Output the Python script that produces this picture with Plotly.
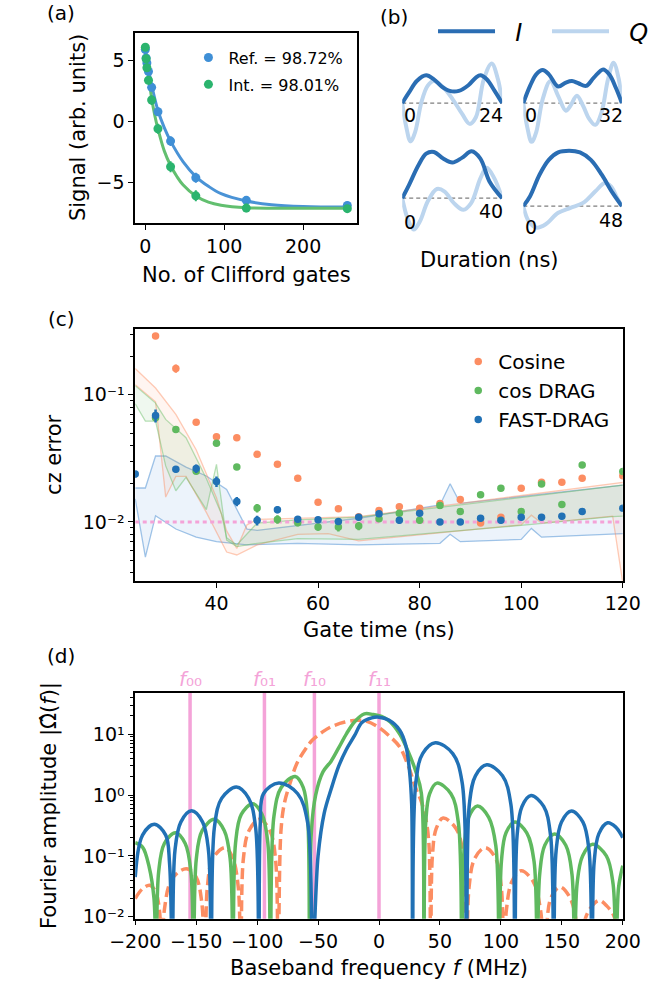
import plotly.graph_objects as go

W, H = 662, 1002

# ---------------- (a) randomized benchmarking ----------------
clifford_m = [0, 1, 2, 4, 8, 16, 32, 64, 128, 256]
ref_signal = [5.9, 5.2, 4.8, 4.1, 2.8, 0.8, -1.6, -4.6, -6.45, -6.86]
ref_err = [0.35, 0.35, 0.35, 0.3, 0.35, 0.35, 0.4, 0.4, 0.35, 0.3]
int_signal = [6.08, 5.14, 4.4, 3.38, 1.76, -0.59, -3.7, -6.08, -7.08, -7.13]
int_err = [0.3, 0.35, 0.35, 0.35, 0.4, 0.4, 0.45, 0.45, 0.35, 0.3]

fit_m_ref = [0, 4, 8, 16, 24, 32, 48, 64, 80, 96, 128, 160, 200, 256]
fit_ref = [5.8, 4.3, 3.0, 0.9, -0.5, -1.6, -3.3, -4.5, -5.3, -5.9, -6.5, -6.8, -6.95, -7.0]
fit_m_int = [0, 4, 8, 12, 16, 24, 32, 40, 48, 64, 80, 96, 128, 192, 256]
fit_int = [6.0, 3.8, 1.9, 0.5, -0.6, -2.4, -3.6, -4.5, -5.2, -6.1, -6.6, -6.85, -7.05, -7.1, -7.1]

ref_label = "Ref. = 98.72%"
int_label = "Int. = 98.01%"

# ---------------- (b) pulse shapes (I / Q) ----------------
pulse_durations = [24, 32, 40, 48]

i_t24 = [0, 1.64, 3.5, 5.76, 7.6, 9.5, 11.4, 13.6, 15.9, 17.7, 18.8, 20.3, 22.2, 24]
i_a24 = [0, 10.7, 22.3, 28, 24, 16.7, 12.3, 12.3, 18, 25.7, 28, 24, 12.3, 0]
q_t24 = [0, 0.9, 2.0, 3.1, 4.6, 6.1, 7.6, 9.9, 12.1, 14.4, 16.2, 17.7, 19.6, 21.5, 23.0, 24]
q_a24 = [0, -22.7, -38.7, -29.3, 0.7, 17.3, 22.3, 15.7, 4, -11, -21, -14.3, 24, 40, 24, 0]

i_t32 = [0, 2.2, 4.2, 6.3, 8.3, 11.3, 13.8, 15.8, 17.9, 20.4, 22.9, 25.9, 27.9, 30, 32]
i_a32 = [0, 17.3, 29, 33.3, 29, 16.7, 20.7, 22.3, 20, 17.3, 25.7, 34, 29, 15.7, 0]
q_t32 = [0, 1.2, 2.7, 4.2, 6.3, 8.8, 11.3, 13.8, 15.3, 17.4, 19.4, 21.4, 23.4, 25.4, 27.5, 29.3, 31, 32]
q_a32 = [0, -23, -39.3, -29.3, 4, 22.3, 7.3, -7.7, -2.7, 7.3, -2.7, -16, -22, -9.3, 24, 40.7, 24, 0]

i_t40 = [0, 2.7, 6.5, 9.6, 12.7, 16.4, 20.1, 23.9, 27.8, 31.3, 35, 40]
i_a40 = [0, 13.3, 33.3, 45, 46.7, 40, 36, 40.7, 47.3, 40, 16.7, 0]
q_t40 = [0, 2.1, 4.6, 7.1, 10.2, 13.9, 17, 20.7, 24.5, 27.6, 31.3, 33.8, 36.9, 40]
q_a40 = [0, -20, -31.7, -23.3, -3.3, 9.3, 6.7, -5, -11.7, -5, 20, 30.7, 20, 0]

i_t48 = [0, 3.3, 7.9, 12.4, 17, 22.3, 27.6, 32.9, 38.2, 43.5, 48]
i_a48 = [0, 10, 31.7, 46.7, 54.3, 56, 54.3, 46.7, 31.7, 13.3, 0]
q_t48 = [0, 2.6, 6.4, 10.9, 17, 23, 29.1, 35.1, 39.7, 42.7, 45.7, 48]
q_a48 = [0, -15, -21.7, -18.3, -6.7, -1.7, 3.3, 15, 23.3, 20, 8.3, 0]

# ---------------- (c) CZ error vs gate time ----------------
gate_times = [24, 28, 32, 36, 40, 44, 48, 52, 56, 60, 64, 68, 72, 76, 80, 84,
              88, 92, 96, 100, 104, 108, 112, 120]
cosine_t = gate_times[1:]
cosine_err = [0.29, 0.161, 0.0608, 0.0468, 0.0459, 0.034, 0.0284, 0.0221, 0.0143,
              0.0127, 0.0110, 0.0123, 0.0132, 0.0128, 0.0140, 0.0150, 0.0098,
              0.0109, 0.0184, 0.0205, 0.0205, 0.0221, 0.0231]
cosine_unc = [0.006, 0.012, 0.002, 0.0015, 0.0012, 0.001, 0.0008, 0.0006, 0.0005,
              0.0006, 0.0004, 0.0006, 0.0007, 0.0006, 0.0005, 0.0005, 0.0005,
              0.0005, 0.0004, 0.0005, 0.0005, 0.0005, 0.0005]
drag_t = gate_times[1:]
drag_err = [0.066, 0.0534, 0.025, 0.0415, 0.0271, 0.01285, 0.01048, 0.00986, 0.00912,
            0.00912, 0.0093, 0.0106, 0.0117, 0.0103, 0.0135, 0.0121, 0.0164, 0.0184,
            0.0121, 0.0199, 0.0137, 0.028, 0.0249]
drag_unc = [0.002, 0.0015, 0.001, 0.001, 0.0008, 0.001, 0.0008, 0.0006, 0.0006,
            0.0007, 0.0007, 0.0005, 0.0005, 0.0006, 0.0005, 0.0005, 0.0005, 0.0005,
            0.0005, 0.0005, 0.0006, 0.0005, 0.0005]
fast_t = gate_times
fast_err = [0.0238, 0.0686, 0.026, 0.0263, 0.0208, 0.0145, 0.0103, 0.0125, 0.0105,
            0.0104, 0.0101, 0.0109, 0.0116, 0.0103, 0.0117, 0.0100, 0.0100, 0.0107,
            0.0103, 0.0109, 0.0109, 0.0111, 0.0121, 0.0128]
fast_unc = [0.0015, 0.008, 0.0015, 0.002, 0.002, 0.0012, 0.0009, 0.0008, 0.0006,
            0.0006, 0.0006, 0.0006, 0.0006, 0.0006, 0.0006, 0.0005, 0.0005, 0.0006,
            0.0006, 0.0006, 0.0006, 0.0006, 0.0006, 0.0006]

# simulated error ranges (lower / upper envelopes)
fast_band_t_up = [24, 26, 28, 30, 34, 38, 42, 46, 48, 68, 84, 86, 88, 120]
fast_band_up = [0.0185, 0.0185, 0.033, 0.033, 0.027, 0.023, 0.018, 0.0088, 0.0086,
                0.0107, 0.0136, 0.0200, 0.0140, 0.0195]
fast_band_t_lo = [24, 26, 28, 30, 32, 36, 40, 46, 56, 68, 84, 86, 88, 100, 102, 104, 120]
fast_band_lo = [0.0152, 0.0053, 0.0112, 0.0100, 0.0088, 0.0076, 0.0070, 0.0066, 0.0068,
                0.0066, 0.0068, 0.0080, 0.0070, 0.0073, 0.0089, 0.0076, 0.0081]

cosine_band_t_up = [24, 28, 32, 36, 40, 42, 44, 46, 48, 68, 120]
cosine_band_up = [0.161, 0.113, 0.070, 0.037, 0.0155, 0.0085, 0.0062, 0.0095, 0.0105,
                  0.0110, 0.0205]
cosine_band_t_lo = [24, 28, 30, 32, 34, 38, 42, 44, 48, 56, 62, 68, 100, 102, 104, 118, 120]
cosine_band_lo = [0.12, 0.088, 0.0157, 0.0228, 0.0228, 0.0119, 0.0058, 0.0055, 0.0066,
                  0.0080, 0.0081, 0.0071, 0.0095, 0.0113, 0.0098, 0.0111, 0.0033]

drag_band_t_up = [24, 28, 30, 34, 38, 41, 42, 44, 48, 56, 68, 120]
drag_band_up = [0.118, 0.086, 0.064, 0.046, 0.022, 0.0115, 0.0075, 0.0066, 0.0098,
                0.0104, 0.0109, 0.0195]
drag_band_t_lo = [24, 26, 28, 30, 32, 34, 38, 40, 42, 44, 48, 56, 68, 100, 118, 120]
drag_band_lo = [0.085, 0.062, 0.062, 0.0276, 0.0176, 0.0224, 0.0125, 0.0284, 0.0072,
                0.0064, 0.0068, 0.0074, 0.0073, 0.0094, 0.0110, 0.0111]

error_target = 0.01

# ---------------- (d) Fourier spectra ----------------
ZERO = 0.002  # spectral nulls (below the axis floor)
fast_f = [-200, -194, -184.4, -175, -171.8, -169.6,
          -167.4, -162.6, -153.8, -144.7, -139.9, -137.7,
          -135.0, -129.0, -117.0, -107.0, -101.3, -98.6,
          -97.4, -94.8, -82.2, -66.7, -58.5, -54.6,
          -50, -45, -39, -33, -27, -20, -14, -6, 0, 8, 17, 22, 25, 26.8, 27.6,
          30.2, 35.8, 46.2, 60.5, 68.2, 71.8,
          74.1, 79.1, 88.4, 101.3, 108.2, 111.4,
          113.3, 117.3, 124.7, 135.1, 140.7, 143.3,
          145.3, 149.7, 157.9, 167.3, 172.3, 174.7,
          176.5, 180.3, 187.5, 194, 200]
fast_amp = [0.045, 0.22, 0.33, 0.22, 0.074, ZERO,
            0.123, 0.36, 0.55, 0.36, 0.123, ZERO,
            0.30, 0.89, 1.35, 0.89, 0.30, ZERO,
            0.35, 1.05, 1.58, 1.05, 0.35, ZERO,
            0.1, 0.5, 1.3, 3.0, 5.5, 9.5, 15.5, 18.5, 19, 17, 11.6, 6.5, 2.5, 0.7, ZERO,
            1.6, 4.8, 7.24, 4.8, 1.6, ZERO,
            0.7, 2.07, 3.13, 2.07, 0.7, ZERO,
            0.22, 0.65, 0.98, 0.65, 0.22, ZERO,
            0.123, 0.36, 0.545, 0.36, 0.123, ZERO,
            0.079, 0.23, 0.35, 0.3, 0.2]

drag_f = [-200, -194, -188.5, -184.6, -182.9,
          -180.8, -176.1, -167, -159, -154.3, -152.2,
          -149.9, -145.1, -135.1, -126.9, -122.1, -119.8,
          -117.7, -113.0, -103.7, -95.9, -91.2, -89.1,
          -86.2, -80.1, -68.7, -62.2, -58.6, -57.0,
          -55.5, -52, -46, -39.3, -33, -26.6, -20, -12, -5, 2, 9.2, 17, 24.5, 30, 34.7, 36.8,
          38.3, 41.5, 47.5, 59, 65.1, 68,
          70, 73.6, 80.7, 90, 95.8, 98.6,
          100.4, 104.2, 111.4, 121.2, 127.2, 129.8,
          131.8, 136, 144, 153.2, 158.3, 160.4,
          162.5, 167, 175.2, 186.5, 192, 194.4,
          196.5, 200]
drag_amp = [0.165, 0.14, 0.065, 0.02, ZERO,
            0.054, 0.16, 0.24, 0.16, 0.054, ZERO,
            0.089, 0.26, 0.40, 0.26, 0.089, ZERO,
            0.162, 0.48, 0.72, 0.48, 0.162, ZERO,
            0.45, 1.34, 2.02, 1.34, 0.45, ZERO,
            0.25, 1.0, 2.4, 3.6, 6.0, 10.2, 16, 21.5, 21, 19.5, 15.9, 10, 4.85, 2.5, 1.08, ZERO,
            0.35, 1.05, 1.57, 1.05, 0.35, ZERO,
            0.148, 0.43, 0.66, 0.43, 0.148, ZERO,
            0.081, 0.24, 0.36, 0.24, 0.081, ZERO,
            0.05, 0.15, 0.23, 0.15, 0.05, ZERO,
            0.035, 0.10, 0.155, 0.10, 0.035, ZERO,
            0.03, 0.069]

cos_f = [-200, -194, -188, -183, -180, -178.5,
         -176, -171, -163, -156.9, -150, -145.5, -142.8,
         -140.8, -136.3, -126.2, -119.9, -115.5, -113.4,
         -111.3, -106.7, -98.1, -89.5, -84.9, -82.8,
         -80.5, -77.6, -72, -67.4, -60, -54.6, -46, -39.3, -28, -18, -10, -1, 8, 16.9,
         24, 29.6, 35, 38.5, 41, 42.4,
         43.8, 46.9, 52.6, 63.3, 69.1, 71.8,
         73.9, 78.5, 87.1, 95.7, 100.3, 102.4,
         104.5, 109, 116.5, 126.5, 132.5, 135.6,
         137.5, 141, 148.4, 156.8, 162.5, 165,
         168, 172, 180.3, 187, 193, 196, 200]
cos_amp = [0.020, 0.029, 0.033, 0.025, 0.012, ZERO,
           0.0135, 0.038, 0.057, 0.061, 0.045, 0.018, ZERO,
           0.031, 0.091, 0.137, 0.091, 0.031, ZERO,
           0.089, 0.26, 0.40, 0.26, 0.089, ZERO,
           0.25, 0.74, 1.8, 3.3, 5.8, 8.0, 11, 13.2, 15.8, 16.9, 16.2, 13.2, 9.5, 6.2,
           3.0, 1.39, 0.75, 0.4, 0.15, ZERO,
           0.10, 0.28, 0.42, 0.28, 0.10, ZERO,
           0.031, 0.091, 0.137, 0.091, 0.031, ZERO,
           0.0129, 0.038, 0.057, 0.038, 0.0129, ZERO,
           0.0069, 0.0204, 0.031, 0.0204, 0.007, ZERO,
           0.0075, 0.0125, 0.0186, 0.015, 0.010, 0.004, 0.003]

transition_f = [-155, -94, -53, 0]
transition_labels = ["\u2080\u2080", "\u2080\u2081", "\u2081\u2080", "\u2081\u2081"]

# ---------------- styling ----------------
FONT = "DejaVu Sans"
C_REF, C_INT = "#3f8fd6", "#2bb46e"
C_REF_FIT, C_INT_FIT = "#4a93d6", "#62bf6f"
C_I, C_Q = "#2a6db3", "#bcd5ee"
C_COS, C_DRAG, C_FAST = "#fc8d62", "#5fb95f", "#2171b5"
C_PINK = "#f4a3d8"
TICK = 19
LABEL = 21
NBSP = "\u00a0"


def xdom(a, b):
    return [a / W, b / W]


def ydom(top, bottom):
    return [1 - bottom / H, 1 - top / H]


def pow10(e):
    sup = {"-": "\u207b", "0": "\u2070", "1": "\u00b9", "2": "\u00b2"}
    return "10" + "".join(sup[c] for c in str(e))


box = dict(showline=True, linecolor="black", linewidth=1.6, mirror=True,
           ticks="outside", ticklen=5, tickwidth=1.4, tickcolor="black",
           showgrid=False, zeroline=False,
           tickfont=dict(family=FONT, size=TICK, color="black"))

fig = go.Figure()

# ---- (a)
fig.add_trace(go.Scatter(x=fit_m_ref, y=fit_ref, mode="lines", line=dict(color=C_REF_FIT, width=3, shape="spline"),
                         xaxis="x", yaxis="y", showlegend=False, hoverinfo="skip"))
fig.add_trace(go.Scatter(x=fit_m_int, y=fit_int, mode="lines", line=dict(color=C_INT_FIT, width=3, shape="spline"),
                         xaxis="x", yaxis="y", showlegend=False, hoverinfo="skip"))
fig.add_trace(go.Scatter(x=clifford_m, y=ref_signal, mode="markers", name=ref_label,
                         marker=dict(color=C_REF, size=9),
                         error_y=dict(type="data", array=ref_err, color=C_REF, thickness=2, width=0),
                         xaxis="x", yaxis="y", legend="legend", legendgroup="ref"))
fig.add_trace(go.Scatter(x=clifford_m, y=int_signal, mode="markers", name=int_label,
                         marker=dict(color=C_INT, size=9),
                         error_y=dict(type="data", array=int_err, color=C_INT, thickness=2, width=0),
                         xaxis="x", yaxis="y", legend="legend", legendgroup="int"))

# ---- (b)
pulses = [(i_t24, i_a24, q_t24, q_a24), (i_t32, i_a32, q_t32, q_a32),
          (i_t40, i_a40, q_t40, q_a40), (i_t48, i_a48, q_t48, q_a48)]
for k, (it, ia, qt, qa) in enumerate(pulses):
    ax = str(k + 2)
    T = pulse_durations[k]
    fig.add_trace(go.Scatter(x=[0, T], y=[0, 0], mode="lines",
                             line=dict(color="#7f7f7f", width=1.3, dash="4px,3px"),
                             xaxis="x" + ax, yaxis="y" + ax, showlegend=False, hoverinfo="skip"))
    fig.add_trace(go.Scatter(x=qt, y=qa, mode="lines", line=dict(color=C_Q, width=4, shape="spline"),
                             name=NBSP * 2 + "<i>Q</i>", legend="legend3", showlegend=(k == 0),
                             xaxis="x" + ax, yaxis="y" + ax, hoverinfo="skip"))
    fig.add_trace(go.Scatter(x=it, y=ia, mode="lines", line=dict(color=C_I, width=4, shape="spline"),
                             name=NBSP * 2 + "<i>I</i>", legend="legend3", showlegend=(k == 0),
                             xaxis="x" + ax, yaxis="y" + ax, hoverinfo="skip"))

# ---- (c) envelopes
bands = [
    (fast_band_t_up, fast_band_up, fast_band_t_lo, fast_band_lo, "rgba(80,145,215,0.11)", "rgba(70,140,210,0.5)"),
    (cosine_band_t_up, cosine_band_up, cosine_band_t_lo, cosine_band_lo, "rgba(252,141,98,0.09)", "rgba(252,141,98,0.45)"),
    (drag_band_t_up, drag_band_up, drag_band_t_lo, drag_band_lo, "rgba(102,189,99,0.10)", "rgba(102,189,99,0.45)"),
]
for tu, up, tl, lo, fillc, linec in bands:
    fig.add_trace(go.Scatter(x=tu + tl[::-1], y=up + lo[::-1], mode="lines", fill="toself",
                             fillcolor=fillc, line=dict(width=0), xaxis="x6", yaxis="y6",
                             showlegend=False, hoverinfo="skip"))
    for tt, vv in ((tu, up), (tl, lo)):
        fig.add_trace(go.Scatter(x=tt, y=vv, mode="lines", line=dict(color=linec, width=1.3),
                                 xaxis="x6", yaxis="y6", showlegend=False, hoverinfo="skip"))

fig.add_trace(go.Scatter(x=[gate_times[0], gate_times[-1]], y=[error_target, error_target], mode="lines",
                         line=dict(color=C_PINK, width=3, dash="4px,3.5px"),
                         xaxis="x6", yaxis="y6", showlegend=False, hoverinfo="skip"))

for t, v, u, c, name in ((cosine_t, cosine_err, cosine_unc, C_COS, "Cosine"),
                         (drag_t, drag_err, drag_unc, C_DRAG, "cos DRAG"),
                         (fast_t, fast_err, fast_unc, C_FAST, "FAST-DRAG")):
    fig.add_trace(go.Scatter(x=t, y=v, mode="markers", name=name, marker=dict(color=c, size=7.5),
                             error_y=dict(type="data", array=u, color=c, thickness=2.5, width=0),
                             xaxis="x6", yaxis="y6", legend="legend2", legendgroup=name,
                             cliponaxis=True))

# ---- (d)
fig.add_trace(go.Scatter(x=cos_f, y=cos_amp, mode="lines", line=dict(color=C_COS, width=3.5, dash="11px,5px", shape="spline"),
                         xaxis="x7", yaxis="y7", showlegend=False, hoverinfo="skip"))
fig.add_trace(go.Scatter(x=drag_f, y=drag_amp, mode="lines", line=dict(color=C_DRAG, width=3.5, shape="spline"),
                         xaxis="x7", yaxis="y7", showlegend=False, hoverinfo="skip"))
fig.add_trace(go.Scatter(x=fast_f, y=fast_amp, mode="lines", line=dict(color=C_FAST, width=3.5, shape="spline"),
                         xaxis="x7", yaxis="y7", showlegend=False, hoverinfo="skip"))

shapes = []
annotations = []
for f0, lab in zip(transition_f, transition_labels):
    shapes.append(dict(type="line", xref="x7", yref="y7 domain", x0=f0, x1=f0, y0=0, y1=1,
                       line=dict(color=C_PINK, width=3.5), layer="below"))
    annotations.append(dict(xref="x7", yref="paper", x=f0, y=1 - 685 / H, showarrow=False,
                            text="<i>f</i>" + lab, xanchor="center", yanchor="middle",
                            font=dict(family=FONT, size=20, color=C_PINK)))


def ann(text, x, y, size=LABEL, angle=0, **kw):
    annotations.append(dict(xref="paper", yref="paper", x=x / W, y=1 - y / H, text=text,
                            showarrow=False, textangle=angle, xanchor="center", yanchor="middle",
                            font=dict(family=FONT, size=size, color="black"), **kw))


ann("(a)", 37, 13, size=20)
ann("(b)", 394, 17, size=20)
ann("(c)", 38, 322, size=20)
ann("(d)", 38, 662, size=20)
ann("Signal (arb. units)", 56, 129, angle=-90)
ann("No. of Clifford gates", 236, 277)
ann("Duration (ns)", 497, 262)
ann("\u1d04\u1d22 error", 30, 459, angle=-90)
ann("Gate time (ns)", 378, 636)
ann("Fourier amplitude |\u03a9\u0302(<i>f</i>)|", 25, 813, angle=-90)
ann("Baseband frequency <i>f</i> (MHz)", 378, 977)

# tick-like duration labels under each pulse baseline
dur_label_offsets = [(12, 12), (12, 12), (24, 13), (21, 14)]
for k, T in enumerate(pulse_durations):
    ax = str(k + 2)
    off0, offT = dur_label_offsets[k]
    annotations.append(dict(xref="x" + ax, yref="y" + ax, x=0, y=0, text="0", showarrow=False,
                            xanchor="left", yanchor="middle", yshift=-off0,
                            font=dict(family=FONT, size=TICK, color="black")))
    annotations.append(dict(xref="x" + ax, yref="y" + ax, x=T, y=0, text=str(T), showarrow=False,
                            xanchor="right", yanchor="middle", yshift=-offT, xshift=3,
                            font=dict(family=FONT, size=TICK, color="black")))

minor_c = [m * 10.0 ** e for e in (-3, -2, -1) for m in range(2, 10) if 0.0034 < m * 10.0 ** e < 0.33]
minor_d = [m * 10.0 ** e for e in (-2, -1, 0, 1) for m in range(2, 10) if m * 10.0 ** e < 47]

hidden = dict(visible=False, showgrid=False, zeroline=False)

layout = dict(
    width=W, height=H, margin=dict(l=0, r=0, t=0, b=0),
    paper_bgcolor="white", plot_bgcolor="white",
    font=dict(family=FONT, color="black"),
    xaxis=dict(box, domain=xdom(117, 355), range=[-12.8, 268.8], tickvals=[0, 100, 200], anchor="y"),
    yaxis=dict(box, domain=ydom(33, 225), range=[-8.3, 7.27], tickvals=[-5, 0, 5],
               ticktext=["\u22125", "0", "5"], anchor="x"),
    xaxis2=dict(hidden, domain=xdom(403, 510), range=[0, 24], anchor="y2"),
    yaxis2=dict(hidden, domain=ydom(55, 152), range=[-48, 49], anchor="x2"),
    xaxis3=dict(hidden, domain=xdom(532.7, 638.3), range=[0, 32], anchor="y3"),
    yaxis3=dict(hidden, domain=ydom(55, 152), range=[-48, 49], anchor="x3"),
    xaxis4=dict(hidden, domain=xdom(403, 510), range=[0, 40], anchor="y4"),
    yaxis4=dict(hidden, domain=ydom(145, 245), range=[-45, 55], anchor="x4"),
    xaxis5=dict(hidden, domain=xdom(532.7, 638.3), range=[0, 48], anchor="y5"),
    yaxis5=dict(hidden, domain=ydom(145, 245), range=[-37, 63], anchor="x5"),
    xaxis6=dict(box, domain=xdom(117, 639.3), range=[24, 120], tickvals=[40, 60, 80, 100, 120], anchor="y6"),
    yaxis6=dict(box, domain=ydom(332, 586), type="log", range=[-2.462, -0.483],
                tickvals=[0.01, 0.1], ticktext=[pow10(-2), pow10(-1)],
                minor=dict(tickmode="array", tickvals=minor_c, ticks="outside", ticklen=3,
                           tickwidth=1.1, tickcolor="black"), anchor="x6"),
    xaxis7=dict(box, domain=xdom(117, 639.3), range=[-200, 200],
                tickvals=[-200, -150, -100, -50, 0, 50, 100, 150, 200],
                ticktext=["\u2212200", "\u2212150", "\u2212100", "\u221250", "0", "50", "100", "150", "200"],
                anchor="y7"),
    yaxis7=dict(box, domain=ydom(699, 927), type="log", range=[-2.03, 1.68],
                tickvals=[0.01, 0.1, 1, 10],
                ticktext=[pow10(-2), pow10(-1), pow10(0), pow10(1)],
                minor=dict(tickmode="array", tickvals=minor_d, ticks="outside", ticklen=3,
                           tickwidth=1.1, tickcolor="black"), anchor="x7"),
    legend=dict(x=174 / W, y=1 - 41 / H, xanchor="left", yanchor="top", bgcolor="rgba(0,0,0,0)",
                font=dict(family=FONT, size=16, color="black"), tracegroupgap=3),
    legend2=dict(x=463 / W, y=1 - 345 / H, xanchor="left", yanchor="top", bgcolor="rgba(0,0,0,0)",
                 font=dict(family=FONT, size=20, color="black"), tracegroupgap=0),
    legend3=dict(x=436 / W, y=1 - 32 / H, xanchor="left", yanchor="middle", orientation="h",
                 bgcolor="rgba(0,0,0,0)", itemwidth=57, traceorder="reversed",
                 entrywidth=42, entrywidthmode="pixels",
                 font=dict(family=FONT, size=24, color="black")),
    shapes=shapes,
    annotations=annotations,
    showlegend=True,
)
fig.update_layout(**layout)

fig.write_html("out.html")
